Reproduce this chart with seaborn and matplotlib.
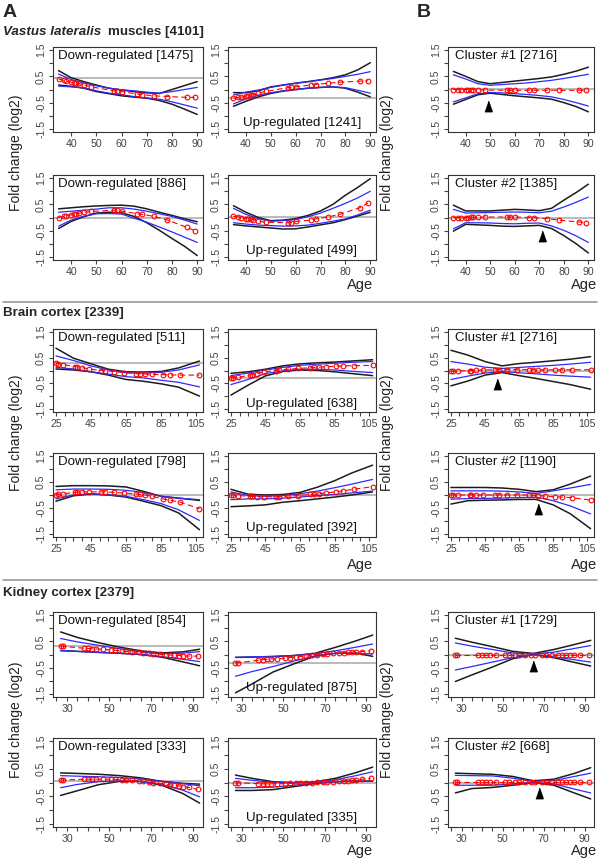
import matplotlib
matplotlib.use("Agg")
import matplotlib.pyplot as plt
import seaborn as sns

# --- ages of the samples (red points) and grid of the confidence bands ---
mus_ages = [35, 37, 38, 40, 41, 42, 43, 45, 48, 57, 58, 60, 66, 68, 73, 78, 86, 89]
mus_grid = [35, 40, 45, 50, 55, 60, 65, 70, 75, 80, 85, 90]
bra_ages = [25, 26, 29, 36, 37, 40, 44, 51, 53, 58, 64, 71, 73, 76, 80, 86, 90, 96, 107]
bra_grid = [25, 35, 45, 55, 65, 75, 85, 95, 107]
kid_ages = [27, 28, 38, 40, 42, 44, 47, 51, 53, 56, 58, 61, 64, 66, 69, 71, 74, 77, 79, 81, 83, 85, 88, 92]
kid_grid = [27, 35, 45, 55, 65, 75, 85, 93]

# --- muscle ---
mus_dn1_red = [0.40, 0.35, 0.32, 0.28, 0.26, 0.25, 0.23, 0.18, 0.10, -0.05, -0.06, -0.08, -0.17, -0.20, -0.24, -0.27, -0.30, -0.30]
mus_dn1_bk_hi = [0.72, 0.45, 0.30, 0.17, 0.05, -0.02, -0.08, -0.13, -0.15, 0.00, 0.15, 0.30]
mus_dn1_bk_lo = [0.17, 0.12, 0.05, -0.08, -0.16, -0.24, -0.29, -0.33, -0.42, -0.56, -0.75, -0.95]
mus_dn1_bl_hi = [0.59, 0.38, 0.25, 0.14, 0.05, -0.01, -0.05, -0.10, -0.14, -0.08, 0.00, 0.08]
mus_dn1_bl_lo = [0.13, 0.10, 0.07, -0.05, -0.14, -0.20, -0.27, -0.32, -0.37, -0.47, -0.59, -0.71]

mus_up1_red = [-0.34, -0.30, -0.28, -0.25, -0.23, -0.22, -0.20, -0.14, -0.07, 0.07, 0.08, 0.10, 0.17, 0.19, 0.24, 0.28, 0.32, 0.33]
mus_up1_bk_hi = [-0.12, -0.12, -0.05, 0.10, 0.17, 0.24, 0.30, 0.37, 0.45, 0.56, 0.75, 1.02]
mus_up1_bk_lo = [-0.64, -0.45, -0.28, -0.15, -0.06, 0.00, 0.05, 0.08, 0.10, 0.05, -0.10, -0.28]
mus_up1_bl_hi = [-0.21, -0.10, -0.02, 0.08, 0.17, 0.24, 0.30, 0.36, 0.42, 0.50, 0.58, 0.68]
mus_up1_bl_lo = [-0.55, -0.36, -0.21, -0.12, -0.05, 0.00, 0.05, 0.08, 0.10, 0.07, -0.03, -0.14]

mus_dn2_red = [0.00, 0.04, 0.06, 0.10, 0.12, 0.14, 0.16, 0.20, 0.23, 0.28, 0.28, 0.24, 0.15, 0.12, 0.04, -0.09, -0.38, -0.50]
mus_dn2_bk_hi = [0.33, 0.37, 0.41, 0.44, 0.46, 0.47, 0.43, 0.33, 0.20, 0.08, -0.05, -0.16]
mus_dn2_bk_lo = [-0.42, -0.15, 0.03, 0.17, 0.20, 0.18, 0.04, -0.20, -0.49, -0.80, -1.10, -1.45]
mus_dn2_bl_hi = [0.20, 0.24, 0.28, 0.32, 0.37, 0.37, 0.32, 0.24, 0.14, 0.04, -0.10, -0.25]
mus_dn2_bl_lo = [-0.33, -0.10, 0.05, 0.14, 0.15, 0.13, -0.03, -0.18, -0.36, -0.55, -0.75, -0.95]

mus_up2_red = [0.04, 0.02, 0.00, -0.04, -0.06, -0.07, -0.08, -0.14, -0.18, -0.20, -0.20, -0.15, -0.10, -0.06, 0.02, 0.13, 0.38, 0.55]
mus_up2_bk_hi = [0.45, 0.20, 0.00, -0.12, -0.10, -0.04, 0.08, 0.25, 0.50, 0.85, 1.15, 1.48]
mus_up2_bk_lo = [-0.27, -0.32, -0.36, -0.40, -0.44, -0.43, -0.36, -0.28, -0.20, -0.08, 0.06, 0.20]
mus_up2_bl_hi = [0.35, 0.12, -0.05, -0.14, -0.12, -0.08, 0.03, 0.17, 0.35, 0.54, 0.75, 1.00]
mus_up2_bl_lo = [-0.20, -0.25, -0.29, -0.31, -0.33, -0.32, -0.29, -0.22, -0.14, -0.05, 0.10, 0.28]

mus_cl1_red = [0.00, 0.00, 0.00, 0.00, 0.00, 0.00, 0.00, 0.00, -0.02, -0.03, -0.03, -0.03, -0.03, -0.03, -0.03, -0.03, -0.03, -0.03]
mus_cl1_bk_hi = [0.69, 0.50, 0.30, 0.22, 0.27, 0.32, 0.37, 0.42, 0.48, 0.58, 0.70, 0.85]
mus_cl1_bk_lo = [-0.56, -0.38, -0.20, -0.14, -0.19, -0.24, -0.28, -0.32, -0.37, -0.50, -0.65, -0.85]
mus_cl1_bl_hi = [0.56, 0.40, 0.22, 0.16, 0.19, 0.22, 0.25, 0.30, 0.35, 0.42, 0.50, 0.58]
mus_cl1_bl_lo = [-0.47, -0.32, -0.16, -0.11, -0.13, -0.16, -0.19, -0.23, -0.28, -0.38, -0.50, -0.63]

mus_cl2_red = [0.00, 0.00, 0.00, 0.00, 0.00, 0.01, 0.01, 0.01, 0.02, 0.02, 0.02, 0.02, 0.00, -0.01, -0.04, -0.10, -0.17, -0.20]
mus_cl2_bk_hi = [0.47, 0.25, 0.25, 0.25, 0.28, 0.31, 0.29, 0.26, 0.35, 0.66, 0.95, 1.27]
mus_cl2_bk_lo = [-0.52, -0.26, -0.28, -0.30, -0.33, -0.34, -0.32, -0.30, -0.42, -0.69, -1.00, -1.35]
mus_cl2_bl_hi = [0.31, 0.17, 0.18, 0.19, 0.20, 0.21, 0.20, 0.18, 0.24, 0.40, 0.58, 0.78]
mus_cl2_bl_lo = [-0.43, -0.20, -0.20, -0.21, -0.23, -0.24, -0.22, -0.21, -0.32, -0.49, -0.70, -0.95]

# --- brain ---
bra_dn1_red = [0.28, 0.27, 0.23, 0.15, 0.14, 0.11, 0.06, 0.00, -0.01, -0.04, -0.08, -0.12, -0.13, -0.14, -0.15, -0.16, -0.17, -0.18, -0.18]
bra_dn1_bk_hi = [0.87, 0.48, 0.26, 0.05, -0.05, -0.06, -0.04, 0.10, 0.37]
bra_dn1_bk_lo = [0.06, 0.02, -0.05, -0.18, -0.35, -0.42, -0.52, -0.65, -1.00]
bra_dn1_bl_hi = [0.57, 0.39, 0.18, 0.02, -0.09, -0.10, -0.07, 0.02, 0.22]
bra_dn1_bl_lo = [0.12, 0.06, -0.05, -0.14, -0.24, -0.29, -0.38, -0.46, -0.64]

bra_up1_red = [-0.30, -0.29, -0.27, -0.18, -0.16, -0.12, -0.06, 0.00, 0.02, 0.05, 0.08, 0.11, 0.12, 0.13, 0.15, 0.17, 0.18, 0.19, 0.20]
bra_up1_bk_hi = [-0.11, -0.05, 0.05, 0.18, 0.26, 0.30, 0.33, 0.37, 0.42]
bra_up1_bk_lo = [-0.96, -0.57, -0.21, -0.04, 0.02, 0.00, -0.05, -0.12, -0.20]
bra_up1_bl_hi = [-0.20, -0.10, 0.02, 0.12, 0.20, 0.25, 0.28, 0.32, 0.35]
bra_up1_bl_lo = [-0.55, -0.35, -0.12, -0.02, 0.05, 0.05, 0.02, -0.03, -0.08]

bra_dn2_red = [0.00, 0.02, 0.05, 0.10, 0.11, 0.12, 0.12, 0.12, 0.12, 0.10, 0.08, 0.04, 0.02, 0.00, -0.05, -0.15, -0.20, -0.28, -0.53]
bra_dn2_bk_hi = [0.33, 0.36, 0.36, 0.35, 0.31, 0.14, -0.05, -0.12, -0.21]
bra_dn2_bk_lo = [-0.24, -0.03, 0.04, 0.00, -0.08, -0.24, -0.41, -0.69, -1.34]
bra_dn2_bl_hi = [0.20, 0.23, 0.23, 0.22, 0.18, 0.10, -0.05, -0.12, -0.18]
bra_dn2_bl_lo = [-0.15, 0.00, 0.05, 0.00, -0.05, -0.18, -0.33, -0.57, -0.98]

bra_up2_red = [0.00, 0.00, -0.02, -0.05, -0.05, -0.06, -0.07, -0.07, -0.06, -0.04, -0.02, 0.02, 0.03, 0.05, 0.08, 0.12, 0.16, 0.22, 0.32]
bra_up2_bk_hi = [0.22, 0.03, 0.00, 0.02, 0.10, 0.30, 0.55, 0.85, 1.15]
bra_up2_bk_lo = [-0.45, -0.42, -0.38, -0.28, -0.22, -0.15, -0.08, 0.00, 0.12]
bra_up2_bl_hi = [0.12, -0.02, -0.05, -0.02, 0.05, 0.15, 0.28, 0.42, 0.60]
bra_up2_bl_lo = [-0.18, -0.15, -0.15, -0.12, -0.08, -0.02, 0.02, 0.08, 0.15]

bra_cl1_red = [-0.03, -0.03, -0.02, 0.00, 0.00, 0.01, 0.02, 0.03, 0.03, 0.03, 0.03, 0.03, 0.03, 0.03, 0.03, 0.03, 0.03, 0.03, 0.03]
bra_cl1_bk_hi = [0.79, 0.60, 0.35, 0.18, 0.27, 0.32, 0.38, 0.44, 0.54]
bra_cl1_bk_lo = [-0.60, -0.41, -0.18, -0.08, -0.20, -0.31, -0.43, -0.55, -0.73]
bra_cl1_bl_hi = [0.35, 0.25, 0.13, 0.08, 0.12, 0.16, 0.20, 0.25, 0.32]
bra_cl1_bl_lo = [-0.35, -0.22, -0.10, -0.04, -0.09, -0.13, -0.18, -0.22, -0.26]

bra_cl2_red = [0.00, 0.00, 0.00, 0.00, 0.00, 0.00, 0.00, 0.00, 0.00, 0.00, 0.00, 0.00, -0.01, -0.02, -0.04, -0.07, -0.08, -0.10, -0.20]
bra_cl2_bk_hi = [0.29, 0.29, 0.29, 0.27, 0.22, 0.13, 0.20, 0.42, 0.73]
bra_cl2_bk_lo = [-0.35, -0.22, -0.20, -0.19, -0.17, -0.17, -0.38, -0.72, -1.30]
bra_cl2_bl_hi = [0.16, 0.16, 0.16, 0.15, 0.12, 0.06, 0.16, 0.27, 0.41]
bra_cl2_bl_lo = [-0.16, -0.14, -0.13, -0.12, -0.10, -0.08, -0.22, -0.42, -0.73]

# --- kidney ---
kid_dn1_red = [0.32, 0.31, 0.24, 0.23, 0.22, 0.21, 0.20, 0.17, 0.16, 0.14, 0.12, 0.10, 0.08, 0.07, 0.05, 0.03, 0.01, -0.01, -0.02, -0.03, -0.04, -0.05, -0.06, -0.06]
kid_dn1_bk_hi = [0.86, 0.65, 0.45, 0.28, 0.14, 0.06, 0.10, 0.20]
kid_dn1_bk_lo = [0.15, 0.12, 0.08, 0.05, 0.00, -0.10, -0.28, -0.43]
kid_dn1_bl_hi = [0.61, 0.48, 0.35, 0.22, 0.10, 0.03, 0.05, 0.11]
kid_dn1_bl_lo = [0.15, 0.12, 0.08, 0.05, 0.00, -0.08, -0.18, -0.27]

kid_up1_red = [-0.32, -0.32, -0.22, -0.20, -0.18, -0.17, -0.16, -0.14, -0.12, -0.10, -0.08, -0.06, -0.03, -0.01, 0.01, 0.02, 0.04, 0.06, 0.07, 0.08, 0.09, 0.10, 0.11, 0.14]
kid_up1_bk_hi = [-0.11, -0.10, -0.08, -0.04, 0.04, 0.27, 0.52, 0.74]
kid_up1_bk_lo = [-1.46, -1.12, -0.67, -0.36, -0.07, 0.05, 0.05, -0.07]
kid_up1_bl_hi = [-0.11, -0.09, -0.07, -0.04, 0.03, 0.14, 0.28, 0.40]
kid_up1_bl_lo = [-0.83, -0.65, -0.46, -0.25, -0.06, 0.04, 0.05, 0.02]

kid_dn2_red = [0.09, 0.09, 0.12, 0.12, 0.12, 0.12, 0.12, 0.12, 0.11, 0.10, 0.09, 0.08, 0.05, 0.04, 0.02, 0.00, -0.03, -0.07, -0.09, -0.10, -0.12, -0.15, -0.18, -0.25]
kid_dn2_bk_hi = [0.35, 0.33, 0.30, 0.25, 0.17, 0.04, -0.03, -0.06]
kid_dn2_bk_lo = [-0.47, -0.30, -0.08, 0.04, 0.04, -0.10, -0.40, -0.75]
kid_dn2_bl_hi = [0.25, 0.23, 0.21, 0.18, 0.13, 0.04, -0.04, -0.12]
kid_dn2_bl_lo = [-0.19, -0.07, 0.03, 0.06, 0.03, -0.07, -0.28, -0.52]

kid_up2_red = [-0.01, -0.01, -0.04, -0.05, -0.05, -0.05, -0.04, -0.04, -0.03, -0.02, -0.01, 0.00, 0.00, 0.01, 0.02, 0.02, 0.03, 0.05, 0.06, 0.07, 0.08, 0.10, 0.12, 0.15]
kid_up2_bk_hi = [0.27, 0.15, 0.03, -0.01, 0.02, 0.15, 0.36, 0.56]
kid_up2_bk_lo = [-0.29, -0.29, -0.26, -0.15, -0.04, 0.03, 0.05, 0.05]
kid_up2_bl_hi = [0.15, 0.08, 0.01, 0.00, 0.02, 0.10, 0.25, 0.39]
kid_up2_bl_lo = [-0.19, -0.19, -0.17, -0.10, -0.02, 0.03, 0.05, 0.05]

kid_cl1_red = [0.00, 0.00, 0.00, 0.00, 0.00, 0.00, 0.00, 0.00, 0.00, 0.00, 0.00, 0.00, 0.00, 0.00, 0.00, 0.00, 0.00, 0.00, 0.00, 0.00, 0.00, 0.00, 0.00, 0.00]
kid_cl1_bk_hi = [0.62, 0.47, 0.30, 0.12, 0.04, 0.19, 0.38, 0.54]
kid_cl1_bk_lo = [-1.03, -0.78, -0.48, -0.16, 0.00, -0.12, -0.30, -0.44]
kid_cl1_bl_hi = [0.44, 0.32, 0.19, 0.06, 0.02, 0.09, 0.23, 0.34]
kid_cl1_bl_lo = [-0.59, -0.46, -0.29, -0.12, 0.00, -0.09, -0.20, -0.29]

kid_cl2_red = [0.02, 0.02, 0.02, 0.02, 0.02, 0.02, 0.02, 0.02, 0.02, 0.02, 0.02, 0.02, 0.02, 0.02, 0.02, 0.02, 0.02, 0.02, 0.02, 0.02, 0.02, 0.02, 0.02, 0.02]
kid_cl2_bk_hi = [0.34, 0.32, 0.30, 0.22, 0.06, 0.12, 0.33, 0.54]
kid_cl2_bk_lo = [-0.38, -0.22, -0.18, -0.10, 0.00, -0.10, -0.38, -0.60]
kid_cl2_bl_hi = [0.26, 0.25, 0.24, 0.16, 0.04, 0.07, 0.22, 0.34]
kid_cl2_bl_lo = [-0.10, -0.10, -0.10, -0.05, 0.00, -0.05, -0.24, -0.38]

# reference (grey) levels, labels and arrow positions (age, tip value)
ref_levels = [0.42, -0.34, 0.00, 0.02, 0.03, 0.00,
              0.28, -0.30, 0.00, 0.00, 0.00, 0.00,
              0.32, -0.32, 0.05, 0.00, 0.00, 0.00]
panel_labels = ["Down-regulated [1475]", "Up-regulated [1241]", "Down-regulated [886]",
                "Up-regulated [499]", "Cluster #1 [2716]", "Cluster #2 [1385]",
                "Down-regulated [511]", "Up-regulated [638]", "Down-regulated [798]",
                "Up-regulated [392]", "Cluster #1 [2716]", "Cluster #2 [1190]",
                "Down-regulated [854]", "Up-regulated [875]", "Down-regulated [333]",
                "Up-regulated [335]", "Cluster #1 [1729]", "Cluster #2 [668]"]
arrow_ages = {4: 49, 5: 71, 10: 52, 11: 76, 16: 65, 17: 68}
arrow_tips = {4: -0.44, 5: -0.52, 10: -0.31, 11: -0.35, 16: -0.25, 17: -0.18}

# ------------------------------------------------------------------
W, H = 600, 860
sns.set_theme(style="ticks")
plt.rcParams['font.family'] = ['Liberation Sans', 'DejaVu Sans']
fig = plt.figure(figsize=(W / 100, H / 100), dpi=100)

tissues = [
    ("mus", mus_ages, mus_grid, (32.8, 92.3), list(range(40, 91, 10)), [40, 50, 60, 70, 80, 90]),
    ("bra", bra_ages, bra_grid, (23.3, 109.0), list(range(25, 106, 5)), [25, 45, 65, 85, 105]),
    ("kid", kid_ages, kid_grid, (23.4, 94.6), list(range(25, 91, 5)), [30, 50, 70, 90]),
]
rows = [[(47, 132), (175, 260)], [(329, 412), (453, 537)], [(612, 697), (738, 827)]]
cols = {"dn": (53, 203), "up": (228, 376), "cl": (448, 594)}
order = [("dn1", "dn", 0), ("up1", "up", 0), ("dn2", "dn", 1), ("up2", "up", 1),
         ("cl1", "cl", 0), ("cl2", "cl", 1)]

data = globals()
# filled triangle pointing up (~7 px wide, 10 px tall)
tri = [(-0.7, -1), (0.7, -1), (0, 1)]
k = 0
for ti, (tag, ages, grid, xlim, xt, xlab) in enumerate(tissues):
    for name, col, r in order:
        l, rr = cols[col]
        t, b = rows[ti][r]
        ax = fig.add_axes([l / W, 1 - b / H, (rr - l) / W, (b - t) / H])
        p = f"{tag}_{name}"
        ax.axhline(ref_levels[k], color="#b4b4b4", lw=1.3, zorder=1)
        for key, c, lw in [("bk_hi", "#1c1c1c", 1.1), ("bk_lo", "#1c1c1c", 1.1),
                           ("bl_hi", "#2b2bff", 0.9), ("bl_lo", "#2b2bff", 0.9)]:
            sns.lineplot(x=grid, y=data[f"{p}_{key}"], ax=ax, color=c, lw=lw,
                         estimator=None, sort=False, zorder=2)
        sns.lineplot(x=ages, y=data[f"{p}_red"], ax=ax, color="red", lw=0.8,
                     linestyle=(0, (5, 3)), marker="o", markersize=3.4,
                     markerfacecolor="none", markeredgecolor="red",
                     markeredgewidth=0.8, estimator=None, sort=False, zorder=3)
        if k in arrow_ages:
            ax.plot([arrow_ages[k]], [arrow_tips[k] - 0.2], marker=tri, ms=7.5,
                    color="black", ls="none", zorder=4)
        ax.set_xlim(*xlim)
        ax.set_ylim(-1.62, 1.62)
        ax.set_xticks(xt)
        ax.set_xticklabels([str(v) if v in xlab else "" for v in xt])
        ax.set_yticks([-1.5, -1, -0.5, 0, 0.5, 1, 1.5])
        ax.set_yticklabels(["-1.5", "", "-0.5", "", "0.5", "", "1.5"],
                           rotation=90, va="center")
        ax.tick_params(direction="out", length=3, width=0.8, labelsize=7.6,
                       labelcolor="#444444", color="#444444", pad=2)
        ax.set_xlabel("")
        ax.set_ylabel("")
        for s in ax.spines.values():
            s.set_color("#333333")
            s.set_linewidth(0.8)
        lab = panel_labels[k]
        if lab.startswith("Up"):
            ax.text(0.5, 0.03, lab, transform=ax.transAxes, ha="center",
                    va="bottom", fontsize=9.6, color="#111111")
        else:
            x0 = 0.03 if lab.startswith("Down") else 0.05
            ax.text(x0, 0.965, lab, transform=ax.transAxes, ha="left",
                    va="top", fontsize=9.6, color="#111111")
        k += 1

# --- figure texts ---
fig.text(3 / W, 1 - 4 / H, "A", fontsize=14, fontweight="bold", va="top")
fig.text(417 / W, 1 - 4 / H, "B", fontsize=14, fontweight="bold", va="top")
fig.text(3 / W, 1 - 32 / H, "Vastus lateralis", fontsize=9.6, fontweight="bold",
         style="italic", va="center")
fig.text(108 / W, 1 - 32 / H, "muscles [4101]", fontsize=9.6, fontweight="bold",
         va="center")
fig.text(3 / W, 1 - 313 / H, "Brain cortex [2339]", fontsize=9.6,
         fontweight="bold", va="center")
fig.text(3 / W, 1 - 593 / H, "Kidney cortex [2379]", fontsize=9.6,
         fontweight="bold", va="center")

for ysep in (302, 580):
    fig.add_artist(plt.Line2D([3 / W, 597 / W], [1 - ysep / H, 1 - ysep / H],
                              color="#9a9a9a", lw=1.2))

for yc, yage in [(153, 285), (433, 565), (720, 851)]:
    for xl in (16, 387):
        fig.text(xl / W, 1 - yc / H, "Fold change (log2)", rotation=90,
                 fontsize=10, color="#222222", ha="center", va="center")
    for xa in (373, 597):
        fig.text(xa / W, 1 - yage / H, "Age", fontsize=10.5, color="#222222",
                 ha="right", va="center")

fig.savefig("out.png", dpi=100)
